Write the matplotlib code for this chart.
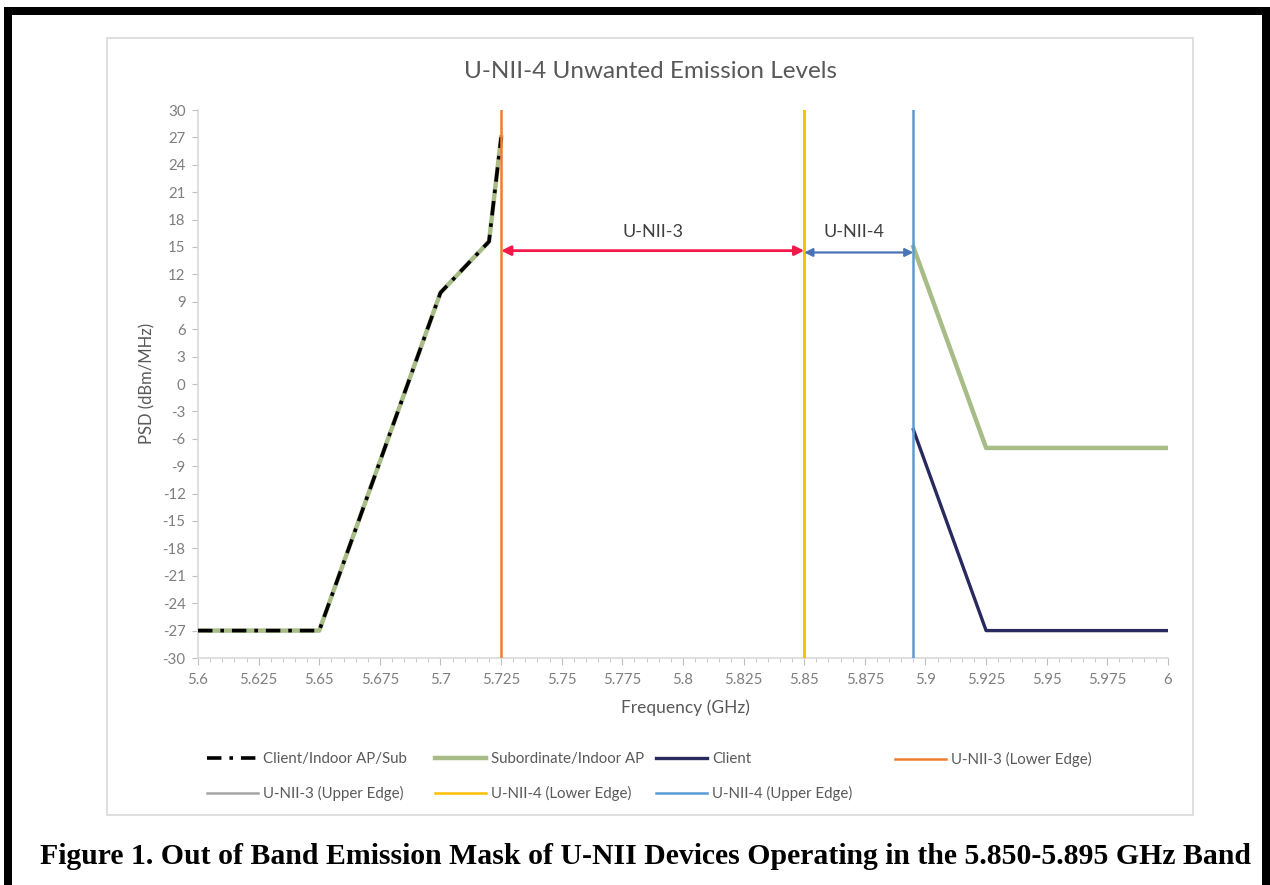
import matplotlib
matplotlib.use('Agg')
import matplotlib.pyplot as plt
import numpy as np
from matplotlib.patches import Rectangle
from matplotlib.ticker import MultipleLocator

# data (GHz, dBm/MHz)
freq_left = [5.6, 5.65, 5.7, 5.72, 5.725]
psd_left = [-27, -27, 10, 15.6, 27]
freq_sub_right = [5.895, 5.925, 6.0]
psd_sub_right = [15, -7, -7]
freq_client_right = [5.895, 5.925, 6.0]
psd_client_right = [-5, -27, -27]
edges = {'U-NII-3 (Lower Edge)': 5.725, 'U-NII-3 (Upper Edge)': 5.85,
         'U-NII-4 (Lower Edge)': 5.85, 'U-NII-4 (Upper Edge)': 5.895}
edge_colors = {'U-NII-3 (Lower Edge)': '#ED7D31', 'U-NII-3 (Upper Edge)': '#A5A5A5',
               'U-NII-4 (Lower Edge)': '#FFC000', 'U-NII-4 (Upper Edge)': '#5B9BD5'}
xticks = np.arange(5.6, 6.0001, 0.025)
xtick_labels = ['5.6', '5.625', '5.65', '5.675', '5.7', '5.725', '5.75', '5.775', '5.8',
                '5.825', '5.85', '5.875', '5.9', '5.925', '5.95', '5.975', '6']
yticks = np.arange(-30, 31, 3)

W, H = 1270, 885
fig = plt.figure(figsize=(W / 100, H / 100), dpi=100)
font = 'Lato'
gray_txt = '#595959'


def fx(px):
    return px / W


def fy(py):
    return 1 - py / H


# outer black frame (bottom edge cut off)
for x0, y0, w, h in [(4, 7, 8, 878), (1262, 7, 8, 878), (4, 7, 1266, 8)]:
    fig.patches.append(Rectangle((fx(x0), fy(y0 + h)), w / W, h / H, transform=fig.transFigure,
                                 facecolor='black', edgecolor='none', zorder=0))
# chart area border
fig.patches.append(Rectangle((fx(107), fy(815)), (1193 - 107) / W, (815 - 38) / H,
                             transform=fig.transFigure, facecolor='none',
                             edgecolor='#D9D9D9', lw=1.2, zorder=0))

ax = fig.add_axes([fx(198), fy(658), (1168 - 198) / W, (658 - 110) / H])
ax.set_xlim(5.6, 6.0)
ax.set_ylim(-30, 30)

# Subordinate/Indoor AP (green), Client (navy), combined mask (black dash-dot)
sub_line, = ax.plot(freq_left, psd_left, color='#A7BC86', lw=3.2, zorder=3)
ax.plot(freq_sub_right, psd_sub_right, color='#A7BC86', lw=3.2, zorder=3)
client_line, = ax.plot(freq_client_right, psd_client_right, color='#28295E', lw=2.4, zorder=3)
mask_line, = ax.plot(freq_left, psd_left, color='black', lw=2.6, zorder=4,
                     dashes=(4, 2.2, 1, 2.2))

edge_handles = {}
for name in ['U-NII-3 (Upper Edge)', 'U-NII-3 (Lower Edge)', 'U-NII-4 (Lower Edge)', 'U-NII-4 (Upper Edge)']:
    edge_handles[name], = ax.plot([edges[name], edges[name]], [-30, 30],
                                  color=edge_colors[name], lw=1.8, zorder=5)

# band annotations
ax.annotate('', xy=(5.725, 14.6), xytext=(5.85, 14.6),
            arrowprops=dict(arrowstyle='<|-|>', color='#F2194A', lw=2, mutation_scale=14,
                            shrinkA=0, shrinkB=0), zorder=6)
ax.annotate('', xy=(5.85, 14.4), xytext=(5.895, 14.4),
            arrowprops=dict(arrowstyle='<|-|>', color='#4A73B5', lw=1.6, mutation_scale=12,
                            shrinkA=0, shrinkB=0), zorder=6)
ax.text(5.7875, 16.6, 'U-NII-3', ha='center', va='center', fontsize=13, color='#404040',
        family=font)
ax.text(5.8705, 16.6, 'U-NII-4', ha='center', va='center', fontsize=13, color='#404040',
        family=font)

# axes styling
for s in ['top', 'right']:
    ax.spines[s].set_visible(False)
for s in ['left', 'bottom']:
    ax.spines[s].set_color('#D9D9D9')
    ax.spines[s].set_linewidth(1.2)
ax.set_xticks(xticks)
ax.set_xticklabels(xtick_labels)
ax.xaxis.set_minor_locator(MultipleLocator(0.005))
ax.set_yticks(yticks)
ax.set_yticklabels([str(v) for v in yticks])
ax.tick_params(axis='both', which='both', colors='#BFBFBF', labelcolor='#7F7F7F',
               labelsize=10.8, direction='out')
ax.tick_params(axis='x', which='major', length=5, pad=6)
ax.tick_params(axis='x', which='minor', length=3)
ax.tick_params(axis='y', length=4, pad=5)
for lab in ax.get_xticklabels() + ax.get_yticklabels():
    lab.set_family(font)

fig.text(fx(147), fy(383), 'PSD (dBm/MHz)', rotation=90, ha='center', va='center',
         fontsize=12, color=gray_txt, family=font)
fig.text(fx(685), fy(708), 'Frequency (GHz)', ha='center', va='center',
         fontsize=12.5, color=gray_txt, family=font)
fig.text(fx(651), fy(72), 'U-NII-4 Unwanted Emission Levels', ha='center', va='center',
         fontsize=17.5, color=gray_txt, family=font)

# legend, laid out as columns like the original
columns = [
    (207, [mask_line, edge_handles['U-NII-3 (Upper Edge)']], ['Client/Indoor AP/Sub', 'U-NII-3 (Upper Edge)']),
    (435, [sub_line, edge_handles['U-NII-4 (Lower Edge)']], ['Subordinate/Indoor AP', 'U-NII-4 (Lower Edge)']),
    (656, [client_line, edge_handles['U-NII-4 (Upper Edge)']], ['Client', 'U-NII-4 (Upper Edge)']),
    (895, [edge_handles['U-NII-3 (Lower Edge)']], ['U-NII-3 (Lower Edge)']),
]
for x0, hs, labs in columns:
    leg = fig.legend(hs, labs, loc='upper left', bbox_to_anchor=(fx(x0), fy(752)),
                     frameon=False, borderpad=0, borderaxespad=0, handlelength=3.4,
                     handletextpad=0.35, labelspacing=1.35,
                     prop={'family': font, 'size': 10.8})
    for t in leg.get_texts():
        t.set_color(gray_txt)

fig.text(fx(646), fy(856), 'Figure 1. Out of Band Emission Mask of U-NII Devices Operating in the 5.850-5.895 GHz Band',
         ha='center', va='center', fontsize=21.4, fontweight='bold', family='Liberation Serif',
         color='black')

fig.savefig('out.png', dpi=100)
